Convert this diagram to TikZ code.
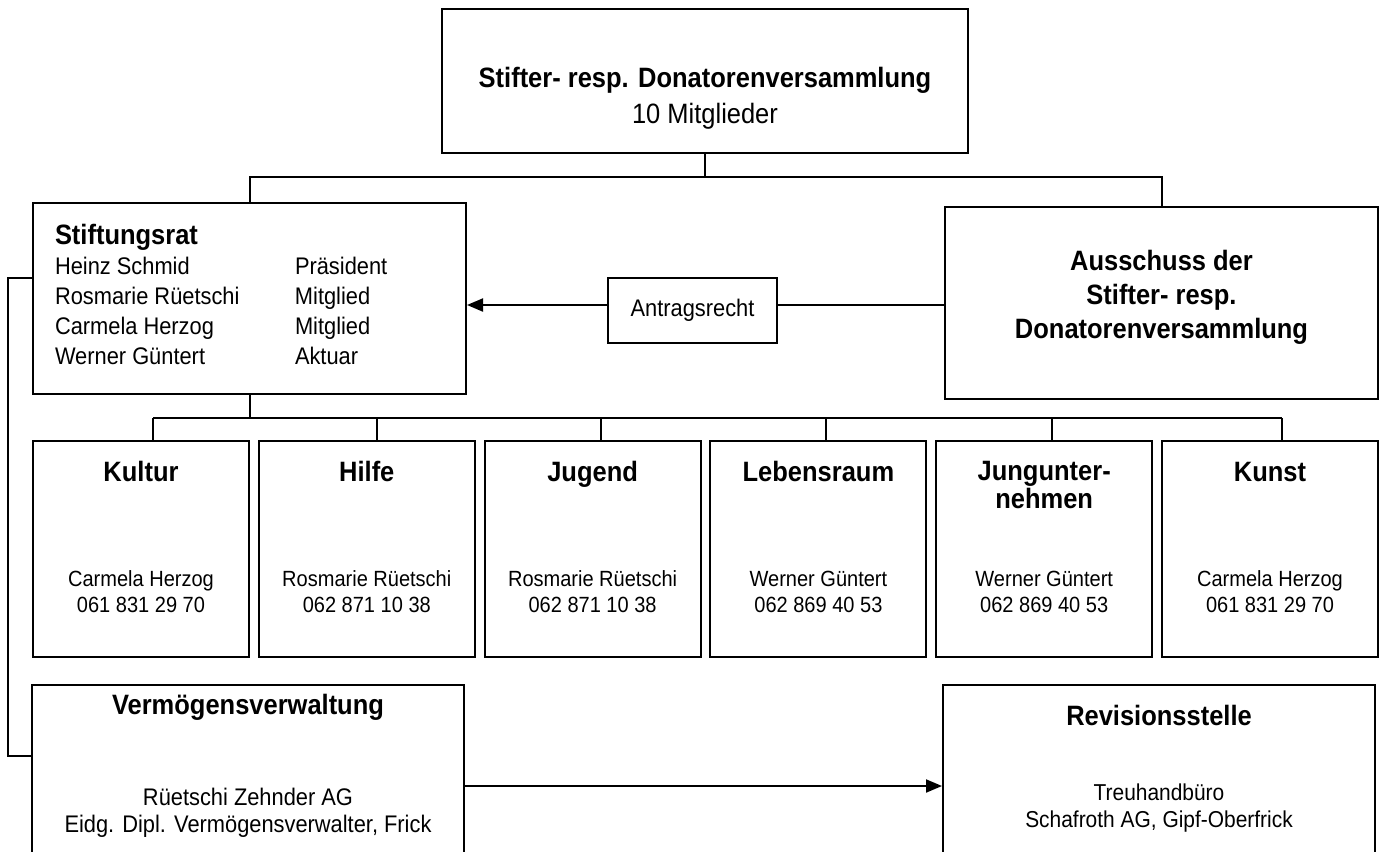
\documentclass[tikz,border=0pt]{standalone}
\usepackage{fontspec}
\setmainfont{Liberation Sans}[FakeStretch=0.91]
\usetikzlibrary{arrows.meta}

\begin{document}
\begin{tikzpicture}[x=0.5pt, y=-0.5pt, line width=1pt]

	\tikzstyle{box}=[rectangle, draw, line width=1pt, inner sep=0pt]
	\tikzstyle{head}=[inner sep=0pt, anchor=base, align=center, font=\fontsize{14}{14}\selectfont\bfseries]
	\tikzstyle{info}=[inner sep=0pt, anchor=base, align=center, font=\fontsize{11}{13}\selectfont]
	\tikzstyle{tip}=[-{Triangle[length=8pt, width=6.5pt]}]

	\useasboundingbox (0,0) rectangle (1379,851);

	% top and second level
	\node[box, minimum width=263pt, minimum height=72pt] (top) at (705,81) {};
	\node[head, font=\fontsize{14}{18}\selectfont] (topText) at (705,123) {\textbf{Stifter- resp. Donatorenversammlung}\\\mdseries 10 Mitglieder};

	\node[box, minimum width=216.5pt, minimum height=95.5pt] (rat) at (249.5,298.5) {};
	\node[inner sep=0pt, anchor=base west, align=left, font=\fontsize{12}{15}\selectfont] (ratText) at (54,364)
		{{\fontsize{14}{15}\selectfont\bfseries Stiftungsrat}\\
		\makebox[120pt][l]{Heinz Schmid}Präsident\\
		\makebox[120pt][l]{Rosmarie Rüetschi}Mitglied\\
		\makebox[120pt][l]{Carmela Herzog}Mitglied\\
		\makebox[120pt][l]{Werner Güntert}Aktuar};

	\node[box, minimum width=216.5pt, minimum height=96pt] (aus) at (1161.5,303) {};
	\node[head, font=\fontsize{14}{17}\selectfont\bfseries] (ausText) at (1161.5,338) {Ausschuss der\\Stifter- resp.\\Donatorenversammlung};

	\node[box, minimum width=84.5pt, minimum height=32.5pt, font=\fontsize{12}{13}\selectfont] (antrag) at (692.5,310.5) {Antragsrecht};

	\coordinate (bus1) at (705,177);
	\coordinate (arr1) at (0,305);
	\draw (top.south) -- (bus1);
	\draw (rat.north) |- (bus1) -| (aus.north);
	\draw (aus.west |- arr1) -- (antrag.east |- arr1);
	\draw[tip] (antrag.west |- arr1) -- (rat.east |- arr1);

	% departments
	\foreach \i/\cx/\tx/\hy/\head/\who/\tel in {
		1/141/153/481/Kultur/Carmela Herzog/061 831 29 70,
		2/366.8/377/481/Hilfe/Rosmarie Rüetschi/062 871 10 38,
		3/592.6/601/481/Jugend/Rosmarie Rüetschi/062 871 10 38,
		4/818.4/826/481/Lebensraum/Werner Güntert/062 869 40 53,
		5/1044.2/1052/508/{Jungunter-\\nehmen}/Werner Güntert/062 869 40 53,
		6/1270/1282/481/Kunst/Carmela Herzog/061 831 29 70}
	{
		\node[box, minimum width=108pt, minimum height=108pt] (b\i) at (\cx,549) {};
		\node[head] (h\i) at (\cx,\hy) {\head};
		\node[info] (n\i) at (\cx,612) {\who\\\tel};
		\coordinate (t\i) at (\tx,418);
		\draw (t\i) -- (t\i |- b\i.north);
	}
	\draw (rat.south) -- (rat.south |- t1);
	\draw (t1) -- (t6);

	% bottom level
	\node[box, minimum width=216pt, minimum height=92.5pt] (verm) at (248,777.5) {};
	\node[head] (vermHead) at (248,714) {Vermögensverwaltung};
	\node[info, font=\fontsize{12}{13.5}\selectfont] (vermText) at (248,832) {Rüetschi Zehnder AG\\Eidg. Dipl. Vermögensverwalter, Frick};

	\node[box, minimum width=216pt, minimum height=92.5pt] (rev) at (1159,777.5) {};
	\node[head] (revHead) at (1159,725) {Revisionsstelle};
	\node[info, font=\fontsize{11.5}{13.5}\selectfont] (revText) at (1159,827) {Treuhandbüro\\Schafroth AG, Gipf-Oberfrick};

	\coordinate (lb1) at (8,278);
	\coordinate (lb2) at (8,756);
	\coordinate (arr2) at (0,786);
	\draw (rat.west |- lb1) -- (lb1) -- (lb2) -- (verm.west |- lb2);
	\draw[tip] (verm.east |- arr2) -- (rev.west |- arr2);

\end{tikzpicture}
\end{document}
